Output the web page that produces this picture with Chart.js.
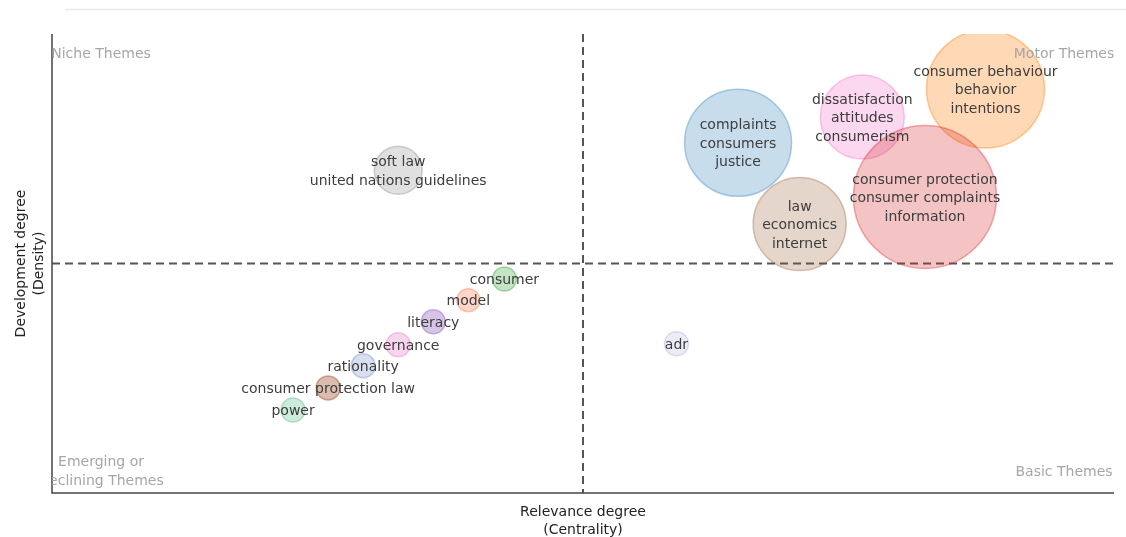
<!DOCTYPE html>
<html>
<head>
<meta charset="utf-8">
<script src="https://cdn.jsdelivr.net/npm/chart.js@4.4.1/dist/chart.umd.min.js"></script>
<style>
  html, body { margin: 0; padding: 0; background: #ffffff; }
  #wrap { position: relative; width: 1126px; height: 537px; }
</style>
</head>
<body>
<div id="wrap"><canvas id="chart" width="1126" height="537"></canvas></div>
<script>
// ---- data ----
const themes = [
  ["soft law", "united nations guidelines"],
  ["complaints", "consumers", "justice"],
  ["dissatisfaction", "attitudes", "consumerism"],
  ["consumer behaviour", "behavior", "intentions"],
  ["law", "economics", "internet"],
  ["consumer protection", "consumer complaints", "information"],
  ["adr"],
  ["consumer"],
  ["model"],
  ["literacy"],
  ["governance"],
  ["rationality"],
  ["consumer protection law"],
  ["power"]
];
const centrality = [0.326, 0.646, 0.763, 0.879, 0.704, 0.822, 0.588, 0.426, 0.392, 0.359, 0.326, 0.293, 0.260, 0.227];
const density    = [0.703, 0.763, 0.819, 0.880, 0.586, 0.645, 0.325, 0.466, 0.420, 0.373, 0.323, 0.277, 0.229, 0.181];
const bubbleSize = [24, 53.5, 42, 59, 46.5, 71.5, 12, 12, 11.5, 12, 12, 12, 12, 12];
const quadrantNames = [["Niche Themes"], ["Motor Themes"], ["Emerging or", "Declining Themes"], ["Basic Themes"]];
const axisTitles = { x: ["Relevance degree", "(Centrality)"], y: ["Development degree", "(Density)"] };
const medianCentrality = 0.5;
const medianDensity = 0.5;

// ---- styles ----
const fills = [
  "rgba(127,127,127,0.24)", "rgba(31,119,180,0.25)", "rgba(240,100,190,0.25)", "rgba(255,127,14,0.30)",
  "rgba(150,90,50,0.25)", "rgba(214,39,40,0.28)", "rgba(130,130,200,0.15)", "rgba(44,160,44,0.28)",
  "rgba(250,120,70,0.30)", "rgba(148,103,189,0.38)", "rgba(227,119,194,0.30)", "rgba(100,130,200,0.26)",
  "rgba(160,82,45,0.38)", "rgba(60,179,113,0.25)"
];
const borders = fills.map(c => c.replace(/[\d.]+\)$/, m => (Math.min(1, parseFloat(m) + 0.1)).toFixed(2) + ")"));

const points = centrality.map((x, i) => ({ x: x, y: density[i], r: bubbleSize[i] }));

const FONT = '"DejaVu Sans", Verdana, sans-serif';

const decor = {
  id: 'decor',
  beforeDatasetsDraw(chart) {
    const { ctx, chartArea: a, scales } = chart;
    ctx.save();
    // faint top rule
    ctx.strokeStyle = '#e9e9e9';
    ctx.lineWidth = 1.5;
    ctx.beginPath(); ctx.moveTo(65, 9.5); ctx.lineTo(1126, 9.5); ctx.stroke();
    // median dashed lines
    const mx = scales.x.getPixelForValue(medianCentrality);
    const my = scales.y.getPixelForValue(medianDensity);
    ctx.strokeStyle = '#555';
    ctx.lineWidth = 2;
    ctx.setLineDash([8, 5]);
    ctx.beginPath(); ctx.moveTo(mx, a.top); ctx.lineTo(mx, a.bottom); ctx.stroke();
    ctx.beginPath(); ctx.moveTo(a.left, my); ctx.lineTo(a.right, my); ctx.stroke();
    ctx.setLineDash([]);
    // axis lines
    ctx.strokeStyle = '#444';
    ctx.lineWidth = 1.5;
    ctx.beginPath(); ctx.moveTo(a.left, a.top); ctx.lineTo(a.left, a.bottom); ctx.lineTo(a.right, a.bottom); ctx.stroke();
    ctx.restore();
  },
  afterDatasetsDraw(chart) {
    const { ctx, chartArea: a, scales } = chart;
    ctx.save();
    // bubble labels
    ctx.font = '14px ' + FONT;
    ctx.fillStyle = '#3d3d3d';
    ctx.textAlign = 'center';
    ctx.textBaseline = 'middle';
    const lh = 18.5;
    themes.forEach((lines, i) => {
      const px = scales.x.getPixelForValue(centrality[i]);
      const py = scales.y.getPixelForValue(density[i]);
      const y0 = py - (lines.length - 1) * lh / 2 + 1.5;
      lines.forEach((t, k) => ctx.fillText(t, px, y0 + k * lh));
    });
    // quadrant names (clipped to plot area)
    ctx.save();
    ctx.beginPath(); ctx.rect(a.left, 0, a.right - a.left, chart.height); ctx.clip();
    ctx.fillStyle = '#a6a6a6';
    const lx = a.left + 49, rx = a.right - 50;
    const drawBlock = (lines, x, yc) => {
      const y0 = yc - (lines.length - 1) * lh / 2;
      lines.forEach((t, k) => ctx.fillText(t, x, y0 + k * lh));
    };
    drawBlock(quadrantNames[0], lx, a.top + 20);
    drawBlock(quadrantNames[1], rx, a.top + 20);
    drawBlock(quadrantNames[2], lx, a.bottom - 21);
    drawBlock(quadrantNames[3], rx, a.bottom - 21);
    ctx.restore();
    // axis titles
    ctx.fillStyle = '#222';
    const cx = (a.left + a.right) / 2;
    axisTitles.x.forEach((t, k) => ctx.fillText(t, cx, a.bottom + 19 + k * 18));
    const cy = (a.top + a.bottom) / 2;
    ctx.translate(21, cy);
    ctx.rotate(-Math.PI / 2);
    axisTitles.y.forEach((t, k) => ctx.fillText(t, 0, k * 18));
    ctx.restore();
  }
};

new Chart(document.getElementById('chart'), {
  type: 'bubble',
  data: {
    datasets: [{
      label: 'themes',
      data: points,
      backgroundColor: fills,
      borderColor: borders,
      borderWidth: 1.5,
      hoverRadius: 0,
      clip: 0
    }]
  },
  options: {
    responsive: false,
    animation: false,
    events: [],
    layout: { autoPadding: false, padding: { left: 52, right: 12, top: 34, bottom: 44 } },
    plugins: { legend: { display: false }, tooltip: { enabled: false } },
    scales: {
      x: { type: 'linear', min: 0, max: 1, display: false },
      y: { type: 'linear', min: 0, max: 1, display: false }
    }
  },
  plugins: [decor]
});
</script>
</body>
</html>
